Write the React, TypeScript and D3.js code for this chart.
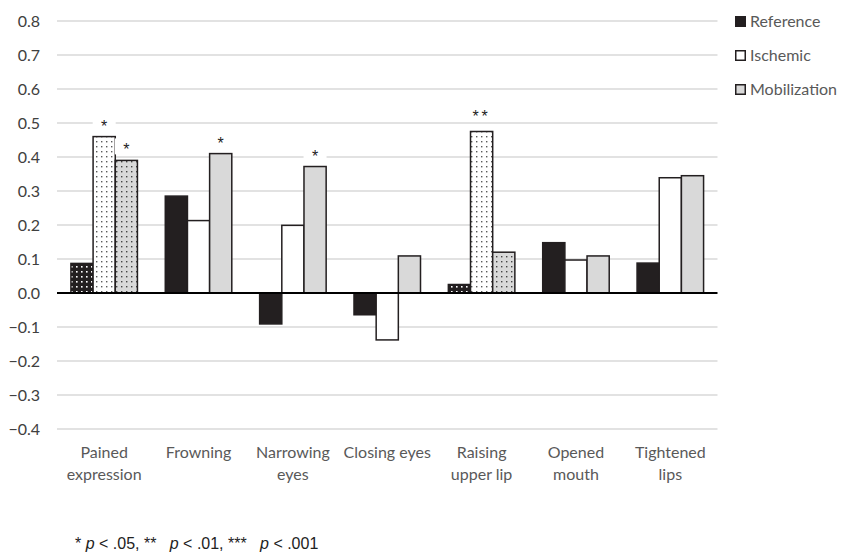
import React from "react";
import * as d3 from "d3";

// Facial action categories along the x axis
const categories: string[][] = [
  ["Pained", "expression"],
  ["Frowning"],
  ["Narrowing", "eyes"],
  ["Closing eyes"],
  ["Raising", "upper lip"],
  ["Opened", "mouth"],
  ["Tightened", "lips"],
];

const seriesNames = ["Reference", "Ischemic", "Mobilization"];

// Values per series, in category order
const referenceValues = [0.087, 0.285, -0.091, -0.064, 0.025, 0.148, 0.088];
const ischemicValues = [0.46, 0.213, 0.199, -0.138, 0.475, 0.097, 0.339];
const mobilizationValues = [0.39, 0.41, 0.372, 0.109, 0.12, 0.109, 0.345];

// Categories drawn with dotted fills
const dottedCategories = [0, 4];

// Significance markers: category index, series index, label
const markers: { cat: number; ser: number; label: string }[] = [
  { cat: 0, ser: 1, label: "*" },
  { cat: 0, ser: 2, label: "*" },
  { cat: 1, ser: 2, label: "*" },
  { cat: 2, ser: 2, label: "*" },
  { cat: 4, ser: 1, label: "**" },
];

const yTicks = [-0.4, -0.3, -0.2, -0.1, 0, 0.1, 0.2, 0.3, 0.4, 0.5, 0.6, 0.7, 0.8];

const W = 841;
const H = 559;
const plotLeft = 57;
const plotRight = 717.5;
const plotTop = 21;
const plotBottom = 429;

const dark = "#231f20";
const light = "#d9d9d9";
const grid = "#d9d9d9";
const textGray = "#595959";
const font = "Lato, 'Open Sans', sans-serif";

const solidFill = [dark, "#ffffff", light];
const patternIds = ["dotRef", "dotIsc", "dotMob"];

export default function App() {
  const values = [referenceValues, ischemicValues, mobilizationValues];
  const x0 = d3
    .scaleBand<number>()
    .domain(d3.range(categories.length))
    .range([plotLeft, plotRight])
    .paddingInner(0)
    .paddingOuter(0);
  const x1 = d3
    .scaleBand<number>()
    .domain(d3.range(seriesNames.length))
    .range([0, x0.bandwidth()])
    .paddingInner(0)
    .paddingOuter(0.628);
  const y = d3.scaleLinear().domain([-0.4, 0.8]).range([plotBottom, plotTop]);
  const fmt = (v: number) => d3.format(".1f")(v).replace("-", "\u2212");

  return (
    <svg
      width={W}
      height={H}
      style={{ position: "absolute", left: 0, top: 0, background: "#fff" }}
    >
      <defs>
        <pattern id="dotRef" width={5} height={5} patternUnits="userSpaceOnUse">
          <rect width={5} height={5} fill={dark} />
          <rect x={1} y={1} width={1.6} height={1.6} fill="#ffffff" />
        </pattern>
        <pattern id="dotIsc" width={5} height={5} patternUnits="userSpaceOnUse">
          <rect width={5} height={5} fill="#ffffff" />
          <rect x={1} y={1} width={1.4} height={1.4} fill="#5a5a5a" />
        </pattern>
        <pattern id="dotMob" width={5} height={5} patternUnits="userSpaceOnUse">
          <rect width={5} height={5} fill={light} />
          <rect x={1} y={1} width={1.4} height={1.4} fill="#444" />
        </pattern>
      </defs>
      <rect width={W} height={H} fill="#fff" />

      {/* gridlines and y tick labels */}
      {yTicks.map((t) => (
        <g key={t}>
          {t !== 0 && (
            <line
              x1={plotLeft}
              x2={plotRight}
              y1={y(t)}
              y2={y(t)}
              stroke={grid}
              strokeWidth={1.3}
            />
          )}
          <text
            x={40}
            y={y(t) + 5.5}
            textAnchor="end"
            fontFamily={font}
            fontSize={16}
            fill="#404040"
          >
            {fmt(t)}
          </text>
        </g>
      ))}

      {/* bars */}
      {categories.map((_, ci) =>
        seriesNames.map((_, si) => {
          const v = values[si][ci];
          const bx = (x0(ci) as number) + (x1(si) as number);
          const top = y(Math.max(0, v));
          const h = Math.abs(y(v) - y(0));
          const dotted = dottedCategories.includes(ci);
          return (
            <rect
              key={`${ci}-${si}`}
              x={bx}
              y={top}
              width={x1.bandwidth()}
              height={h}
              fill={dotted ? `url(#${patternIds[si]})` : solidFill[si]}
              stroke={dark}
              strokeWidth={1.5}
            />
          );
        })
      )}

      {/* zero axis */}
      <line
        x1={plotLeft}
        x2={plotRight}
        y1={y(0)}
        y2={y(0)}
        stroke="#000"
        strokeWidth={2}
      />

      {/* significance markers */}
      {markers.map((m, i) => {
        const v = values[m.ser][m.cat];
        const cx = (x0(m.cat) as number) + (x1(m.ser) as number) + x1.bandwidth() / 2;
        const cy = y(v) - (m.label.length > 1 ? 19 : 14);
        const w = m.label.length * 9 + 14;
        return (
          <g key={i}>
            <rect x={cx - w / 2} y={cy - 8} width={w} height={16} fill="#fff" />
            <text
              x={cx}
              y={cy + 9}
              textAnchor="middle"
              fontFamily="'Liberation Sans', Arial, sans-serif"
              fontSize={16}
              fill="#222"
              letterSpacing={m.label.length > 1 ? 3 : 0}
            >
              {m.label}
            </text>
          </g>
        );
      })}

      {/* category labels */}
      {categories.map((lines, ci) => {
        const cx = (x0(ci) as number) + x0.bandwidth() / 2;
        return (
          <text
            key={ci}
            x={cx}
            y={458}
            textAnchor="middle"
            fontFamily={font}
            fontSize={16}
            fill={textGray}
          >
            {lines.map((ln, li) => (
              <tspan key={li} x={cx} dy={li === 0 ? 0 : 21.5}>
                {ln}
              </tspan>
            ))}
          </text>
        );
      })}

      {/* legend */}
      {seriesNames.map((name, si) => (
        <g key={name} transform={`translate(735, ${16 + si * 34})`}>
          <rect
            x={0.75}
            y={0.75}
            width={9.5}
            height={9.5}
            fill={solidFill[si]}
            stroke={dark}
            strokeWidth={1.5}
          />
          <text x={15} y={10.5} fontFamily={font} fontSize={16} fill={textGray}>
            {name}
          </text>
        </g>
      ))}

      {/* footnote */}
      <text
        x={75}
        y={549}
        fontFamily="'Liberation Sans', Arial, sans-serif"
        fontSize={16}
        fill="#222"
        style={{ whiteSpace: "pre" }}
        xmlSpace="preserve"
      >
        {"* "}
        <tspan fontStyle="italic">p</tspan>
        {" < .05, **   "}
        <tspan fontStyle="italic">p</tspan>
        {" < .01, ***   "}
        <tspan fontStyle="italic">p</tspan>
        {" < .001"}
      </text>
    </svg>
  );
}
